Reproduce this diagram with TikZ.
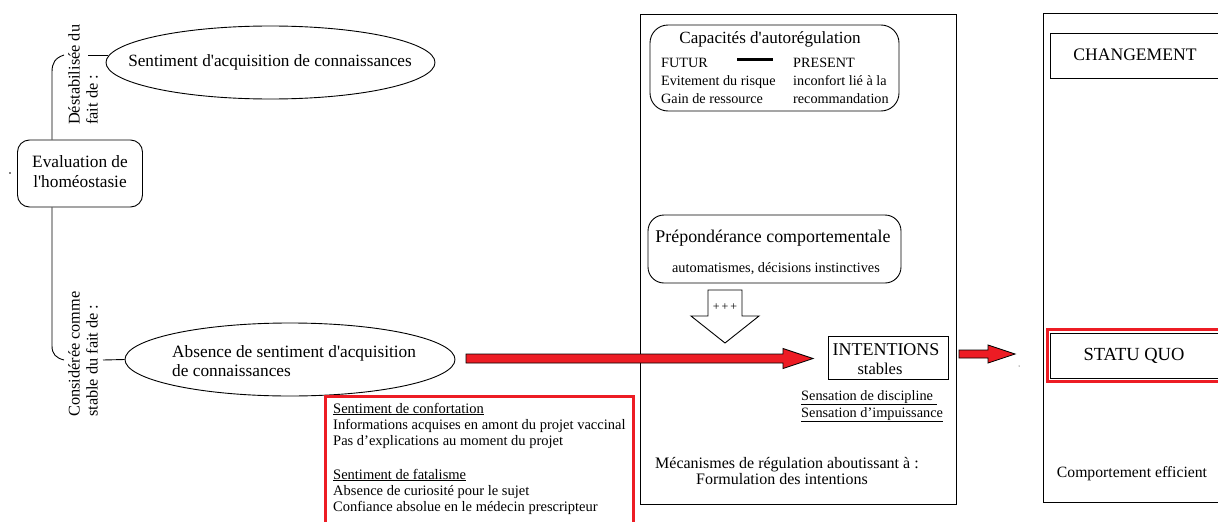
\documentclass[tikz,border=0pt]{standalone}
\usepackage{fontspec}
\setmainfont{Liberation Serif}[Ligatures=TeXOff]
\usetikzlibrary{shapes.geometric,calc}
\definecolor{myred}{RGB}{237,28,36}
\tikzset{
  line/.style={draw=black,line width=0.9pt},
  ell/.style={ellipse,line,inner sep=0pt},
  rbox/.style={draw=black,line width=0.9pt,rounded corners=12pt,inner sep=0pt},
  pbox/.style={draw=black,line width=0.9pt,inner sep=0pt},
  txt/.style={inner sep=0pt,anchor=base west},
  ctxt/.style={inner sep=0pt,anchor=base},
  vtxt/.style={rotate=90,align=left,anchor=west,inner sep=0pt,font=\fontsize{16.3}{18}\selectfont},
  redarrow/.style={fill=myred,draw=black,line width=0.8pt,line join=miter},
}
\newcommand{\fsz}[2]{\fontsize{#1}{#2}\selectfont}
\begin{document}
\begin{tikzpicture}[x=1pt,y=-1pt]
\useasboundingbox (0,0) rectangle (1218,522);
\clip (0,0) rectangle (1218,522);
\fill[white] (0,0) rectangle (1218,522);

% ---------- left part ----------
\node[rbox,minimum width=125pt,minimum height=67pt] (eval) at (80,173.5) {};
\node[ctxt,align=center,font=\fsz{17.3}{20}] (evalt) at (80,187) {Evaluation de\\l'homéostasie};
\fill (10,173) circle (0.9);

\node[ell,minimum width=329pt,minimum height=73pt] (e1) at (270.5,62.5) {};
\node[ctxt,font=\fsz{17.2}{20}] (e1t) at (270,66) {Sentiment d'acquisition de connaissances};
\node[ell,minimum width=330pt,minimum height=73pt] (e2) at (290,359.5) {};
\node[txt,align=left,font=\fsz{17.3}{19}] (e2t) at (172,376) {Absence de sentiment d'acquisition\\de connaissances};

\node[vtxt] (l1) at (83,125) {Déstabilisée du\\fait de :};
\node[vtxt] (l2) at (83,417) {Considérée comme\\stable du fait de :};

\coordinate (b1) at (64,55);
\coordinate (b2) at (64,360);
\draw[line] (b1) .. controls (55,58) and (52,63) .. (52,72) -- (eval.north -| 52,0);
\draw[line] (eval.south -| 52,0) -- (52,346) .. controls (52,354) and (56,358) .. (b2);
\coordinate (c1) at (88,55);
\coordinate (c2) at (103,360);
\draw[line] (c1) -- ($(e1.west |- c1)+(2,0)$);
\draw[line] (c2) -- (e2.west);

% red box
\draw[myred,line width=3pt] (325,396) rectangle (633,530);
\node[txt,align=left,font=\fsz{14.5}{16}] (conf) at (333,511)
 {\underline{Sentiment de confortation}\\
  Informations acquises en amont du projet vaccinal\\
  Pas d’explications au moment du projet\\[18pt]
  \underline{Sentiment de fatalisme}\\
  Absence de curiosité pour le sujet\\
  Confiance absolue en le médecin prescripteur};

% ---------- middle box ----------
\draw[line] (640,14) rectangle (956,504);
\node[rbox,rounded corners=18pt,minimum width=249pt,minimum height=86pt] (cap) at (774.5,68) {};
\node[ctxt,font=\fsz{17.1}{20}] (capt) at (770,43) {Capacités d'autorégulation};
\node[txt,align=left,font=\fsz{14.2}{18}] (fut) at (661,103) {FUTUR\\Evitement du risque\\Gain de ressource};
\node[txt,align=left,font=\fsz{14.2}{18}] (pres) at (793,103) {PRESENT\\inconfort lié à la\\recommandation};
\coordinate (d1) at (737,59);
\coordinate (d2) at (773,59);
\draw[line width=3pt] (d1) -- (d2);

\node[rbox,rounded corners=16pt,minimum width=253pt,minimum height=68pt] (prep) at (774.5,249) {};
\node[ctxt,font=\fsz{17.9}{20}] (prept) at (773,242) {Prépondérance comportementale};
\node[ctxt,font=\fsz{14.3}{16}] (prepa) at (776,272) {automatismes, décisions instinctives};

% block down arrow
\draw[line,fill=white,line join=miter] (708,290) -- (742,290) -- (742,316) -- (759,316) -- (725,343) -- (691,316) -- (708,316) -- cycle;
\node[inner sep=0pt,font=\fsz{12}{14}] (plus) at (725,307) {+\,+\,+};

\node[pbox,minimum width=120pt,minimum height=43pt] (int) at (888,357.5) {};
\node[ctxt,font=\fsz{18}{20}] (intt) at (886,355) {INTENTIONS};
\node[ctxt,font=\fsz{16.5}{18}] (ints) at (880,374) {stables};

\node[txt,align=left,font=\fsz{14.3}{17}] (sens) at (801,417) {\underline{Sensation de discipline }\\\underline{Sensation d’impuissance}};

\node[txt,font=\fsz{16}{17}] (meca) at (655,468) {Mécanismes de régulation aboutissant à :};
\node[txt,font=\fsz{16}{17}] (form) at (696,484) {Formulation des intentions};

% big red arrow
\coordinate (A1) at (466,358.5);
\coordinate (A2) at (813,358.5);
\draw[redarrow] ($(A1)+(0,-4.5)$) -- ($(A2)+(-30,-4.5)$) -- ($(A2)+(-30,-10)$) -- (A2) -- ($(A2)+(-30,10)$) -- ($(A2)+(-30,4.5)$) -- ($(A1)+(0,4.5)$) -- cycle;

% ---------- right box ----------
\draw[line] (1043,13) rectangle (1230,502);
\node[pbox,minimum width=180pt,minimum height=45pt,anchor=north west] (chg) at (1050,33) {};
\node[ctxt,font=\fsz{17.6}{19}] (chgt) at (1135,60) {CHANGEMENT};

\draw[myred,line width=3pt] (1047,329.5) rectangle (1230,381.5);
\node[pbox,minimum width=180pt,minimum height=45pt,anchor=north west] (sq) at (1050,333) {};
\node[ctxt,font=\fsz{18.5}{19}] (sqt) at (1134,360) {STATU QUO};

\node[ctxt,font=\fsz{15.7}{17}] (comp) at (1132,477) {Comportement efficient};

\coordinate (B1) at (959,354);
\coordinate (B2) at (1015,354);
\draw[redarrow] ($(B1)+(0,-4)$) -- ($(B2)+(-27,-4)$) -- ($(B2)+(-27,-9)$) -- (B2) -- ($(B2)+(-27,9)$) -- ($(B2)+(-27,4)$) -- ($(B1)+(0,4)$) -- cycle;
\fill (1019,366) circle (0.5);
\end{tikzpicture}
\end{document}
